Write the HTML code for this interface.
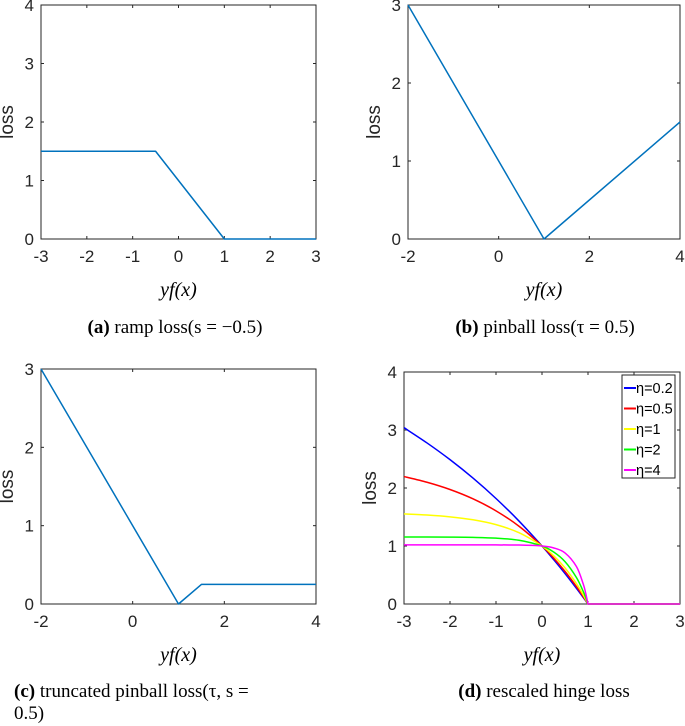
<!DOCTYPE html>
<html><head><meta charset="utf-8"><style>
html,body{margin:0;padding:0;background:#fff;width:685px;height:726px;overflow:hidden}
svg{display:block}
.t{font-family:"Liberation Sans",sans-serif;font-size:17px;fill:#262626}
.s{font-family:"Liberation Serif",serif;font-size:19px;fill:#000}
</style></head><body>
<svg id="fig" width="685" height="726"></svg>
<script>
const xsA=[-3,-0.5,1,3], ysA=[1.5,1.5,0,0];
const xsB=[-2,1,4], ysB=[3,0,1.5];
const xsC=[-2,1,1.5,4], ysC=[3,0,0.25,0.25];
const xsD=[-3,-2.5,-2,-1.5,-1,-0.5,0,0.25,0.5,0.75,0.9,0.95,1,3];
const etaLabels=["\u03b7=0.2","\u03b7=0.5","\u03b7=1","\u03b7=2","\u03b7=4"];
const d02=[3.04,2.777,2.489,2.171,1.819,1.430,1,0.768,0.525,0.269,0.109,0.055,0,0];
const d05=[2.197,2.099,1.974,1.813,1.606,1.341,1,0.795,0.562,0.299,0.124,0.063,0,0];
const d1=[1.553,1.534,1.503,1.452,1.368,1.229,1,0.835,0.623,0.350,0.151,0.077,0,0];
const d2=[1.156,1.1555,1.1536,1.1487,1.1353,1.0989,1,0.8985,0.731,0.455,0.210,0.110,0,0];
const d4=[1.0187,1.0187,1.0187,1.0187,1.0184,1.0162,1,0.968,0.881,0.644,0.336,0.185,0,0];
const dSeries=[d02,d05,d1,d2,d4];
const dColors=["#0000ff","#ff0000","#ffff00","#00ff00","#ff00ff"];
const NS="http://www.w3.org/2000/svg";
const svg=document.getElementById('fig');
function mk(tag,at,parent){const e=document.createElementNS(NS,tag);for(const k in at)e.setAttribute(k,at[k]);(parent||svg).appendChild(e);return e;}
function axes(name,L,R,T,B,x0,x1,y0,y1,xt,yt){
  const g=mk('g',{});
  
  
  const sx=v=>L+(v-x0)/(x1-x0)*(R-L), sy=v=>B-(v-y0)/(y1-y0)*(B-T);
  const box=mk('rect',{x:L,y:T,width:R-L,height:B-T,fill:'none',stroke:'#262626','stroke-width':1},g);
  
  
  xt.forEach(v=>{const x=sx(v);
    mk('line',{x1:x,x2:x,y1:B,y2:B-3,stroke:'#262626'},g);mk('line',{x1:x,x2:x,y1:T,y2:T+3,stroke:'#262626'},g);
    const t=mk('text',{x:x,y:B+23,'text-anchor':'middle',class:'t'},g);t.textContent=String(v);
    
    });
  yt.forEach(v=>{const y=sy(v);
    mk('line',{x1:L,x2:L+3,y1:y,y2:y,stroke:'#262626'},g);mk('line',{x1:R,x2:R-3,y1:y,y2:y,stroke:'#262626'},g);
    const t=mk('text',{x:L-7,y:y+6,'text-anchor':'end',class:'t'},g);t.textContent=v;
    
    });
  const yl=mk('text',{x:0,y:0,transform:`translate(${L-28},${(T+B)/2}) rotate(-90)`,'text-anchor':'middle',class:'t',style:'font-size:19px'},g);
  yl.textContent='loss';
  
  
  const xlab=mk('text',{x:(L+R)/2,y:B+57,'text-anchor':'middle',class:'s','font-style':'italic',style:'font-size:20px'},g);
  xlab.textContent='yf(x)';
  
  
  return {sx,sy,g};
}
function line(ax,xs,ys,col,name,w){
  const p=mk('polyline',{points:xs.map((x,i)=>ax.sx(x)+','+ax.sy(ys[i])).join(' '),fill:'none',stroke:col,'stroke-width':w||1.5,'stroke-linejoin':'round'},ax.g);
  
  
}
function smooth(ax,xs,ys,col,name){
  const P=xs.map((x,i)=>[ax.sx(x),ax.sy(ys[i])]);let d='M'+P[0][0]+','+P[0][1];
  const n=P.length-2;
  for(let i=0;i<n;i++){const p0=P[Math.max(0,i-1)],p1=P[i],p2=P[i+1],p3=P[Math.min(n,i+2)];
    d+=` C${p1[0]+(p2[0]-p0[0])/6},${p1[1]+(p2[1]-p0[1])/6} ${p2[0]-(p3[0]-p1[0])/6},${p2[1]-(p3[1]-p1[1])/6} ${p2[0]},${p2[1]}`;}
  d+=' L'+P[P.length-1][0]+','+P[P.length-1][1];
  const p=mk('path',{d:d,fill:'none',stroke:col,'stroke-width':1.5},ax.g);
  
  
}
const A=axes('panel-a-ramp-loss',41,316,5,239,-3,3,0,4,[-3,-2,-1,0,1,2,3],[0,1,2,3,4]);
line(A,xsA,ysA,'#0072bd','ramp-loss-line');
const B=axes('panel-b-pinball-loss',408,680,5,239,-2,4,0,3,[-2,0,2,4],[0,1,2,3]);
line(B,xsB,ysB,'#0072bd','pinball-loss-line');
const C=axes('panel-c-truncated-pinball',41,316,369,604,-2,4,0,3,[-2,0,2,4],[0,1,2,3]);
line(C,xsC,ysC,'#0072bd','truncated-pinball-line');
const D=axes('panel-d-rescaled-hinge',404,680,372,604,-3,3,0,4,[-3,-2,-1,0,1,2,3],[0,1,2,3,4]);
dSeries.forEach((s,i)=>smooth(D,xsD,s,dColors[i],'hinge-eta-'+i));
const lg=mk('g',{});


mk('rect',{x:622,y:375,width:53,height:103,fill:'#fff',stroke:'#262626'},lg);
etaLabels.forEach((l,i)=>{const y=388+i*20.5;
  mk('line',{x1:624,x2:636,y1:y,y2:y,stroke:dColors[i],'stroke-width':2},lg);
  const t=mk('text',{x:636,y:y+5,class:'t',style:'font-size:14.5px;fill:#000'},lg);t.textContent=l;
  
  });
function cap(x,y,b,rest,name,anchor){
  const t=mk('text',{x:x,y:y,class:'s','text-anchor':anchor||'middle'});
  
  
  const a=mk('tspan',{'font-weight':'bold'},t);a.textContent=b;
  const r=mk('tspan',{},t);r.textContent=rest;
}
cap(175,333,'(a)',' ramp loss(s = \u22120.5)','caption-a');
cap(545,333,'(b)',' pinball loss(\u03c4 = 0.5)','caption-b');
cap(14,697,'(c)',' truncated  pinball  loss(\u03c4, s  =','caption-c','start');
const c2=mk('text',{x:14,y:719,class:'s'});c2.textContent='0.5)';


cap(544,697,'(d)',' rescaled hinge loss','caption-d');
</script>
</body></html>
